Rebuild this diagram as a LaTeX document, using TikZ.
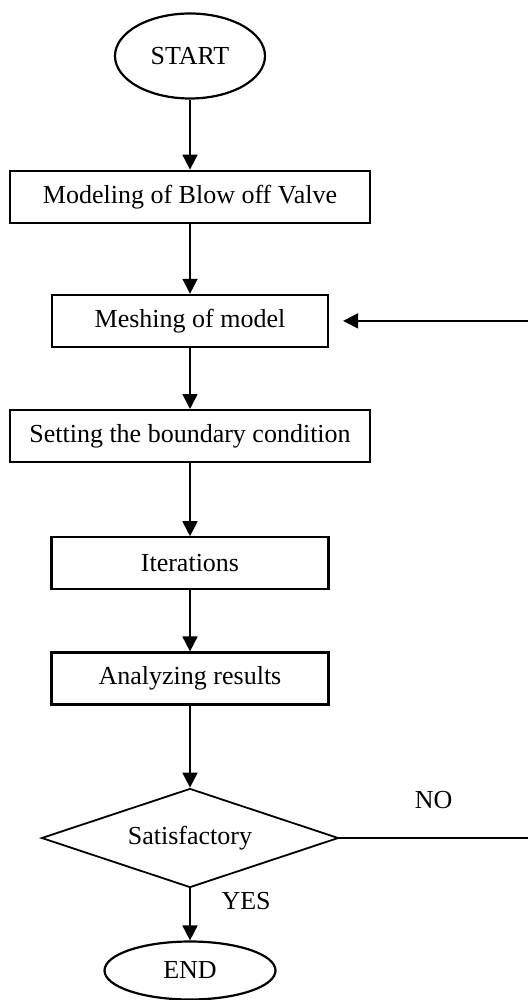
\documentclass[tikz,border=0pt]{standalone}
\usepackage{fontspec}
\setmainfont{Liberation Serif}
\usetikzlibrary{positioning, shapes.geometric, arrows.meta}

\begin{document}
\begin{tikzpicture}
    [
      font=\fontsize{13}{15}\selectfont,
      RECT/.style={rectangle, draw=black, fill=white, line width = 1.1pt, minimum height = 26pt, inner sep = 0pt, align = center},
      OVAL/.style={ellipse, draw=black, fill=white, line width = 1.1pt, inner sep = 0pt},
      DIAMOND/.style={diamond, draw=black, fill=white, line width = 0.9pt, minimum width = 148.5pt, minimum height = 49.5pt, inner sep = 0pt, aspect = 3},
    ]

    \useasboundingbox (0,0) rectangle (264pt,-500pt);
    \coordinate (edge) at (264pt,0);

    \node[OVAL, minimum width = 75pt, minimum height = 42.5pt] (start) at (95pt,-28pt) {START};
    \node[RECT, minimum width = 180pt] (modeling) [below = 35pt of start] {Modeling of Blow off Valve};
    \node[RECT, minimum width = 138pt] (meshing) [below = 35pt of modeling] {Meshing of model};
    \node[RECT, minimum width = 180pt] (boundary) [below = 30.5pt of meshing] {Setting the boundary condition};
    \node[RECT, minimum width = 138.5pt] (iterations) [below = 36.5pt of boundary] {Iterations};
    \node[RECT, minimum width = 138.5pt] (analyzing) [below = 30.5pt of iterations] {Analyzing results};
    \node[DIAMOND] (satisfactory) [below = 41pt of analyzing] {Satisfactory};
    \node[OVAL, minimum width = 85.5pt, minimum height = 29pt] (end) [below = 26pt of satisfactory] {END};

    \draw[ -{Triangle[width=7.5pt, length=7.5pt]}, line width = 0.9pt] (start) to (modeling);
    \draw[ -{Triangle[width=7.5pt, length=7.5pt]}, line width = 0.9pt] (modeling) to (meshing);
    \draw[ -{Triangle[width=7.5pt, length=7.5pt]}, line width = 0.9pt] (meshing) to (boundary);
    \draw[ -{Triangle[width=7.5pt, length=7.5pt]}, line width = 0.9pt] (boundary) to (iterations);
    \draw[ -{Triangle[width=7.5pt, length=7.5pt]}, line width = 0.9pt] (iterations) to (analyzing);
    \draw[ -{Triangle[width=7.5pt, length=7.5pt]}, line width = 0.9pt] (analyzing) to (satisfactory);
    \draw[ -{Triangle[width=7.5pt, length=7.5pt]}, line width = 0.9pt] (satisfactory) to node[pos = 0.25, right = 12pt] {YES} (end);
    \draw[ -, line width = 0.9pt] (satisfactory.east) to node[above = 11pt] {NO} (edge |- satisfactory.east);
    \draw[ -{Triangle[width=7.5pt, length=7.5pt]}, line width = 0.9pt, shorten > = 7pt] (edge |- meshing.east) to (meshing.east);

  \end{tikzpicture}
\end{document}
